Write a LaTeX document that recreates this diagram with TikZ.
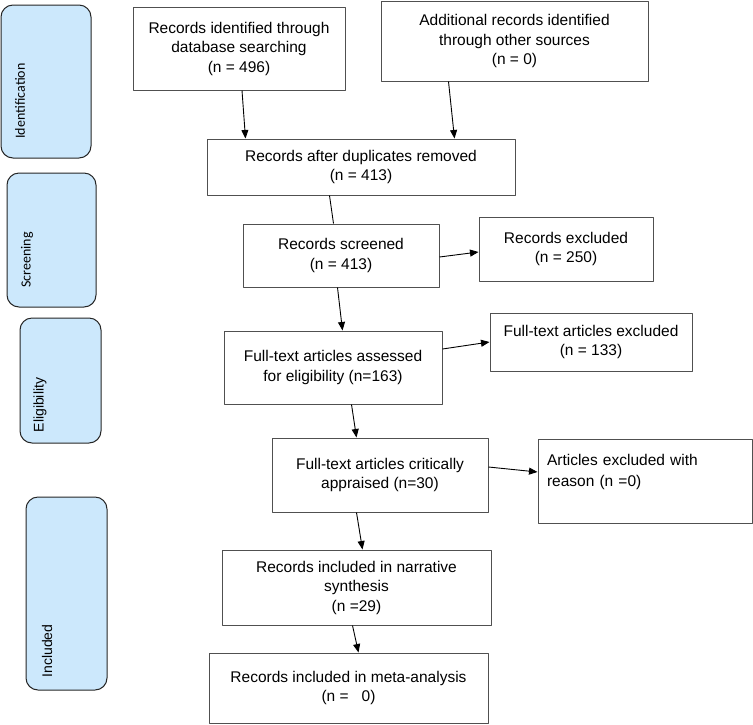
\documentclass[tikz,border=0pt]{standalone}
\usepackage{fontspec}
\setmainfont{Liberation Sans}
\newfontfamily\calibrifont{Carlito}
\usetikzlibrary{arrows.meta}
\definecolor{stageblue}{RGB}{204,232,252}
\definecolor{boxgray}{RGB}{80,80,80}
\begin{document}
\begin{tikzpicture}[x=1pt,y=-1pt,>={Triangle[length=8.5pt,width=7pt]},line join=round,
	font=\fontsize{15.5}{19.5}\selectfont,
	box/.style={draw=boxgray,line width=1pt,inner sep=0pt,align=center},
	stage/.style={draw=black!85,fill=stageblue,line width=1pt,rounded corners=12pt},
	stagetext/.style={rotate=90,inner sep=0pt},
	link/.style={line width=0.9pt}]
	\useasboundingbox (0,0) rectangle (753,724);
	% phase bars on the left
	\draw[stage] (1,5) rectangle (91,158);
	\draw[stage] (7,173) rectangle (96,307);
	\draw[stage] (20,318) rectangle (101,443);
	\draw[stage] (26,497) rectangle (107,690);
	\node[stagetext,font=\calibrifont\fontsize{14}{16}\selectfont] (idlab) at (20,101) {Identification};
	\node[stagetext,font=\calibrifont\fontsize{14}{16}\selectfont] (scrlab) at (27,260) {Screening};
	\node[stagetext,font=\fontsize{14}{16}\selectfont] (eliglab) at (40,405) {Eligibility};
	\node[stagetext,font=\fontsize{14}{16}\selectfont] (incllab) at (47,651) {Included};
	% flow boxes
	\node[box,minimum width=212pt,minimum height=83pt] (found) at (239,48.5) {Records identified through\\database searching\\(n = 496)};
	\node[box,minimum width=267pt,minimum height=80pt] (other) at (514.5,41) {Additional records identified\\through other sources\\(n = 0)};
	\node[box,minimum width=308pt,minimum height=56pt] (dedup) at (361,167) {Records after duplicates removed\\(n = 413)};
	\node[box,minimum width=196pt,minimum height=63pt] (screen) at (341,255.5) {Records screened\\(n = 413)};
	\node[box,minimum width=174pt,minimum height=64pt] (excl) at (566,249) {Records excluded\\(n = 250)};
	\node[box,minimum width=218pt,minimum height=73pt] (assess) at (333,367.5) {Full-text articles assessed\\for eligibility (n=163)};
	\node[box,minimum width=202pt,minimum height=58pt] (ftexcl) at (591,342) {Full-text articles excluded\\(n = 133)};
	\node[box,minimum width=216pt,minimum height=74pt] (apprais) at (380,475) {Full-text articles critically\\appraised (n=30)};
	\node[box,minimum width=214pt,minimum height=84pt,inner xsep=9pt,text width=196pt,align=left] (reason) at (645,481) {Articles excluded with\\[2pt]reason (n =0)\\[2pt]~};
	\node[box,minimum width=269pt,minimum height=75pt] (narr) at (356.5,587.5) {Records included in narrative\\synthesis\\(n =29)};
	\node[box,minimum width=279pt,minimum height=70pt] (meta) at (348.5,688) {Records included in meta-analysis\\(n =\ \ \ 0)};
	% connectors
	\draw[link,->] ([xshift=3pt]found.south) -- ([xshift=39pt]dedup.north west);
	\draw[link,->] ([xshift=68pt]other.south west) -- ([xshift=-61pt]dedup.north east);
	\draw[link] ([xshift=123pt]dedup.south west) -- ([xshift=91pt]screen.north west);
	\draw[link,->] ([yshift=-1.5pt]screen.east) -- ([yshift=-3pt]excl.west);
	\draw[link,->] ([xshift=95pt]screen.south west) -- ([xshift=119pt]assess.north west);
	\draw[link,->] ([yshift=18.5pt]assess.east) -- (ftexcl.west);
	\draw[link,->] ([xshift=128pt]assess.south west) -- ([xshift=85pt]apprais.north west);
	\draw[link,->] ([yshift=8pt]apprais.east) -- ([yshift=9pt]reason.west);
	\draw[link,->] ([xshift=85pt]apprais.south west) -- ([xshift=141pt]narr.north west);
	\draw[link,->] ([xshift=131pt]narr.south west) -- ([xshift=150pt]meta.north west);
\end{tikzpicture}
\end{document}
